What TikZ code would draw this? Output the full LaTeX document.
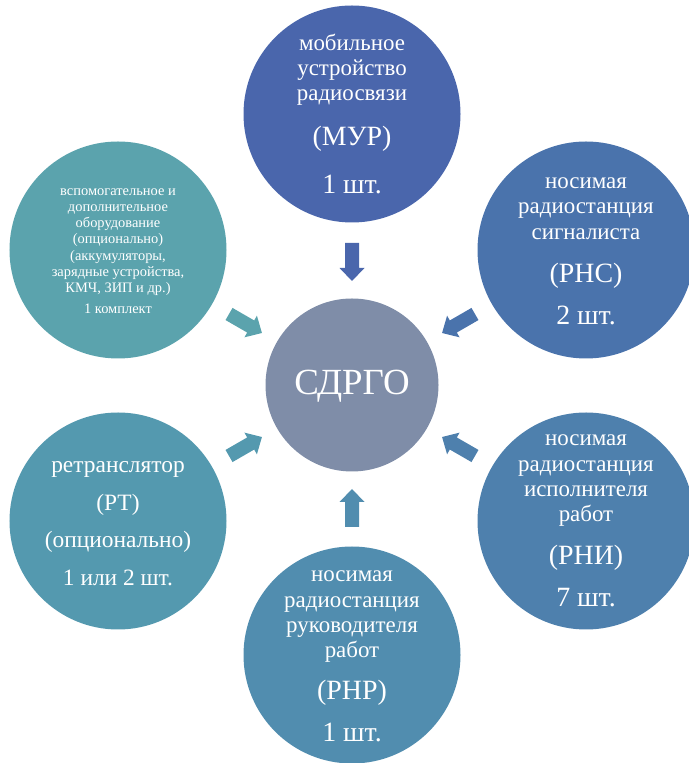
\documentclass[tikz,border=0pt]{standalone}
\usepackage{fontspec}
\setmainfont{Liberation Serif}
\definecolor{cA}{HTML}{4A66AC}
\definecolor{cB}{HTML}{4A73AC}
\definecolor{cC}{HTML}{4E80AD}
\definecolor{cD}{HTML}{518DAF}
\definecolor{cE}{HTML}{5499AF}
\definecolor{cF}{HTML}{5BA3AD}
\definecolor{cM}{HTML}{7F8DA8}
\newcommand{\bigtxt}[1]{{\fontsize{28}{30}\selectfont #1}}
\tikzset{
  outerc/.style={circle, minimum size=217bp, inner sep=0pt, draw=none},
  lbl/.style={align=center, text=white, inner sep=0pt, font=\fontsize{23}{25.5}\selectfont},
  blockarrow/.style={draw=none}
}
\begin{document}
\begin{tikzpicture}[x=1bp,y=1bp]
\useasboundingbox (0,0) rectangle (689,763);
% centre
\node[circle, minimum size=173bp, inner sep=0pt, fill=cM] (ctr) at (352,378) {};
\node[text=white, inner sep=0pt, font=\fontsize{37}{40}\selectfont] (ctrt) at ([yshift=-1bp]ctr.center) {СДРГО};
% outer circles
\node[outerc, fill=cA] (oA) at (352,649) {};
\node[outerc, fill=cB] (oB) at (586,513) {};
\node[outerc, fill=cC] (oC) at (586,242) {};
\node[outerc, fill=cD] (oD) at (352,108) {};
\node[outerc, fill=cE] (oE) at (118,242) {};
\node[outerc, fill=cF] (oF) at (118,513) {};
% labels
\node[lbl] (tA) at (oA.center) {мобильное\\устройство\\радиосвязи\\[19.5bp]\bigtxt{(МУР)}\\[22.5bp]\bigtxt{1 шт.}};
\node[lbl] (tB) at ([yshift=-1bp]oB.center) {носимая\\радиостанция\\сигналиста\\[17.5bp]\bigtxt{(РНС)}\\[16.5bp]\bigtxt{2 шт.}};
\node[lbl] (tC) at (oC.center) {носимая\\радиостанция\\исполнителя\\работ\\[17.5bp]\bigtxt{(РНИ)}\\[16.5bp]\bigtxt{7 шт.}};
\node[lbl] (tD) at ([yshift=-1.5bp]oD.center) {носимая\\радиостанция\\руководителя\\работ\\[16.5bp]\bigtxt{(РНР)}\\[16.5bp]\bigtxt{1 шт.}};
\node[lbl, font=\fontsize{23.5}{37.7}\selectfont] (tE) at ([yshift=-2.5bp]oE.center) {ретранслятор\\(РТ)\\(опционально)\\1 или 2 шт.};
\node[lbl, font=\fontsize{14.5}{16.3}\selectfont] (tF) at ([yshift=-1bp]oF.center) {вспомогательное и\\дополнительное\\оборудование\\(опционально)\\(аккумуляторы,\\зарядные устройства,\\КМЧ, ЗИП и др.)\\[4.7bp]1 комплект};
% block arrows
\foreach \ang/\col in {90/cA, 30/cB, -30/cC, -90/cD, 210/cE, 150/cF}{
  \fill[\col, blockarrow, shift={(ctr.center)}, rotate=\ang]
    (142,7) -- (117,7) -- (117,12.5) -- (104,0) -- (117,-12.5) -- (117,-7) -- (142,-7) -- cycle;
}
\end{tikzpicture}
\end{document}
